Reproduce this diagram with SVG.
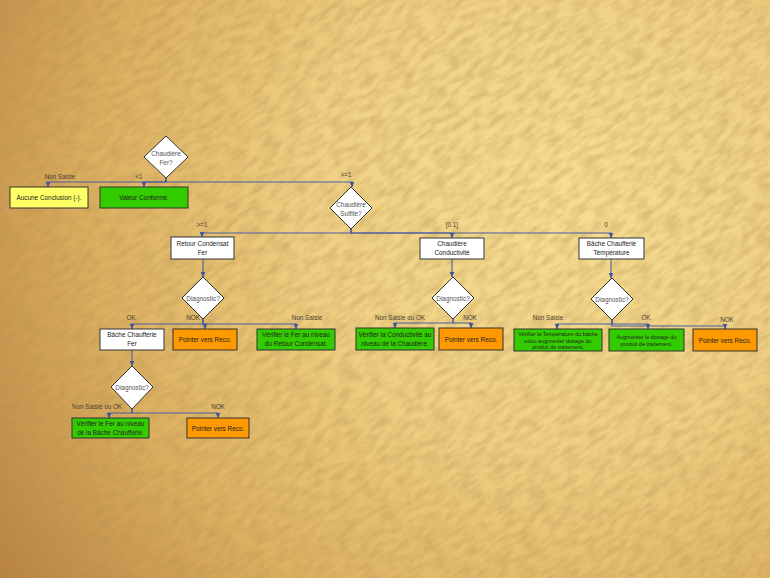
<svg xmlns="http://www.w3.org/2000/svg" width="770" height="578" viewBox="0 0 770 578">
<defs>
<radialGradient id="bg" cx="560" cy="200" r="720" gradientUnits="userSpaceOnUse">
<stop offset="0" stop-color="#f6de92"/>
<stop offset="0.35" stop-color="#efd083"/>
<stop offset="0.65" stop-color="#dcb060"/>
<stop offset="1" stop-color="#b0783a"/>
</radialGradient>
<filter id="tex" x="0" y="0" width="100%" height="100%">
<feTurbulence type="fractalNoise" baseFrequency="0.06 0.16" numOctaves="3" seed="4" result="n"/>
<feColorMatrix in="n" type="matrix" values="0 0 0 0 0.45  0 0 0 0 0.28  0 0 0 0 0.08  0 0 0 -2.2 1.45"/>
</filter>
<marker id="ah" viewBox="0 0 6 6" refX="5.5" refY="3" markerWidth="5" markerHeight="5" orient="auto">
<path d="M0,0.5 L6,3 L0,5.5 Z" fill="#3f55a0"/>
</marker>
<style>
.box{stroke:#333;stroke-width:1}
.white{fill:#fff}
.green{fill:#33cc00}
.orange{fill:#ff9900}
.yellow{fill:#ffff66}
.dia{fill:#fff;stroke:#333;stroke-width:1}
.t{font-family:"Liberation Sans",Arial,sans-serif;font-size:6.4px;fill:#222;text-anchor:middle}
.ts{font-family:"Liberation Sans",Arial,sans-serif;font-size:5.5px;fill:#222;text-anchor:middle}
.td{font-family:"Liberation Sans",Arial,sans-serif;font-size:6.4px;fill:#555;text-anchor:middle}
.lbl{font-family:"Liberation Sans",Arial,sans-serif;font-size:6.3px;fill:#4a4030;text-anchor:middle}
.c{fill:none;stroke:#4a5fa0;stroke-width:1.1;marker-end:url(#ah)}
</style>
</defs>
<rect width="770" height="578" fill="url(#bg)"/>
<g transform="rotate(-35 385 289)" opacity="0.35"><rect x="-300" y="-300" width="1370" height="1180" filter="url(#tex)"/></g>

<g id="connectors">
<path class="c" d="M166,178 V182 H48 V187"/>
<path class="c" d="M166,178 V182 H144 V187"/>
<path class="c" d="M166,178 V182 H352 V187"/>
<path class="c" d="M351,229 V233 H202 V237"/>
<path class="c" d="M351,229 V233 H452 V238"/>
<path class="c" d="M351,229 V233 H611 V238"/>
<path class="c" d="M203,259 V277"/>
<path class="c" d="M452,259 V277"/>
<path class="c" d="M611,259 V278"/>
<path class="c" d="M203,319 V324 H132 V329"/>
<path class="c" d="M203,319 V324 H205 V329"/>
<path class="c" d="M203,319 V324 H296 V329"/>
<path class="c" d="M453,319 V323 H395 V328"/>
<path class="c" d="M453,319 V323 H471 V328"/>
<path class="c" d="M612,320 V324 H557 V329"/>
<path class="c" d="M612,320 V324 H648 V329"/>
<path class="c" d="M612,320 V326 H725 V329"/>
<path class="c" d="M132,350 V366"/>
<path class="c" d="M132,409 V413 H109 V418"/>
<path class="c" d="M132,409 V413 H218 V418"/>
</g>

<g id="labels">
<text class="lbl" x="60" y="179">Non Saisie</text>
<text class="lbl" x="139" y="179">&lt;1</text>
<text class="lbl" x="346" y="177">&gt;=1</text>
<text class="lbl" x="202" y="227">&gt;=1</text>
<text class="lbl" x="452" y="227">[0.1]</text>
<text class="lbl" x="606" y="227">0</text>
<text class="lbl" x="131" y="320">OK</text>
<text class="lbl" x="193" y="320">NOK</text>
<text class="lbl" x="307" y="320">Non Saisie</text>
<text class="lbl" x="400" y="320">Non Saisie ou OK</text>
<text class="lbl" x="470" y="320">NOK</text>
<text class="lbl" x="548" y="320">Non Saisie</text>
<text class="lbl" x="646" y="320">OK</text>
<text class="lbl" x="727" y="322">NOK</text>
<text class="lbl" x="97" y="409">Non Saisie ou OK</text>
<text class="lbl" x="218" y="409">NOK</text>
</g>

<g id="d_fer"><path class="dia" d="M166,136 L188,157 L166,178 L144,157 Z"/><text class="td" x="166" y="156">Chaudière</text><text class="td" x="166" y="164.5">Fer?</text></g>
<g id="n_aucune"><rect class="box yellow" x="10" y="187" width="78" height="21"/><text class="t" x="49" y="200">Aucune Conclusion (-).</text></g>
<g id="n_conforme"><rect class="box green" x="100" y="187" width="88" height="21"/><text class="t" x="144" y="200">Valeur Conforme.</text></g>
<g id="d_sulfite"><path class="dia" d="M351,187 L372,208 L351,229 L330,208 Z"/><text class="td" x="351" y="207">Chaudière</text><text class="td" x="351" y="215.5">Sulfite?</text></g>
<g id="n_retour"><rect class="box white" x="171" y="237" width="63" height="22"/><text class="t" x="202.5" y="246">Retour Condensat</text><text class="t" x="202.5" y="254.5">Fer</text></g>
<g id="n_cond"><rect class="box white" x="420" y="238" width="64" height="21"/><text class="t" x="452" y="246">Chaudière</text><text class="t" x="452" y="254.5">Conductivité</text></g>
<g id="n_temp"><rect class="box white" x="579" y="238" width="65" height="21"/><text class="t" x="611.5" y="246">Bâche Chaufferie</text><text class="t" x="611.5" y="254.5">Température</text></g>
<g id="d_diag1"><path class="dia" d="M203,277 L224,298 L203,319 L182,298 Z"/><text class="td" x="203" y="300.5">Diagnostic?</text></g>
<g id="d_diag2"><path class="dia" d="M453,277 L474,298 L453,319 L432,298 Z"/><text class="td" x="453" y="300.5">Diagnostic?</text></g>
<g id="d_diag3"><path class="dia" d="M612,278 L633,299 L612,320 L591,299 Z"/><text class="td" x="612" y="301.5">Diagnostic?</text></g>
<g id="n_bache"><rect class="box white" x="100" y="329" width="64" height="21"/><text class="t" x="132" y="337">Bâche Chaufferie</text><text class="t" x="132" y="345.5">Fer</text></g>
<g id="n_reco1"><rect class="box orange" x="173" y="329" width="64" height="21"/><text class="t" x="205" y="342">Pointer vers Reco.</text></g>
<g id="n_verif_retour"><rect class="box green" x="257" y="329" width="78" height="21"/><text class="t" x="296" y="337">Vérifier le Fer au niveau</text><text class="t" x="296" y="345.5">du Retour Condensat.</text></g>
<g id="n_verif_cond"><rect class="box green" x="356" y="328" width="78" height="22"/><text class="t" x="395" y="337">Vérifier la Conductivité au</text><text class="t" x="395" y="345.5">niveau de la Chaudière.</text></g>
<g id="n_reco2"><rect class="box orange" x="439" y="328" width="64" height="22"/><text class="t" x="471" y="341.5">Pointer vers Reco.</text></g>
<g id="n_verif_temp"><rect class="box green" x="514" y="329" width="88" height="22"/><text class="ts" x="558" y="336">Vérifier la Température du bâche</text><text class="ts" x="558" y="342.5">et/ou augmenter dosage du</text><text class="ts" x="558" y="349">produit de traitement.</text></g>
<g id="n_augmenter"><rect class="box green" x="609" y="329" width="75" height="22"/><text class="ts" x="646.5" y="338.5">Augmenter le dosage du</text><text class="ts" x="646.5" y="345.5">produit de traitement.</text></g>
<g id="n_reco3"><rect class="box orange" x="693" y="329" width="64" height="22"/><text class="t" x="725" y="342.5">Pointer vers Reco.</text></g>
<g id="d_diag4"><path class="dia" d="M132,366 L153,387 L132,409 L111,387 Z"/><text class="td" x="132" y="389.5">Diagnostic?</text></g>
<g id="n_verif_bache"><rect class="box green" x="72" y="418" width="77" height="20"/><text class="t" x="110.5" y="426">Vérifier le Fer au niveau</text><text class="t" x="110.5" y="434.5">de la Bâche Chaufferie.</text></g>
<g id="n_reco4"><rect class="box orange" x="187" y="418" width="62" height="20"/><text class="t" x="218" y="430.5">Pointer vers Reco.</text></g>
</svg>
